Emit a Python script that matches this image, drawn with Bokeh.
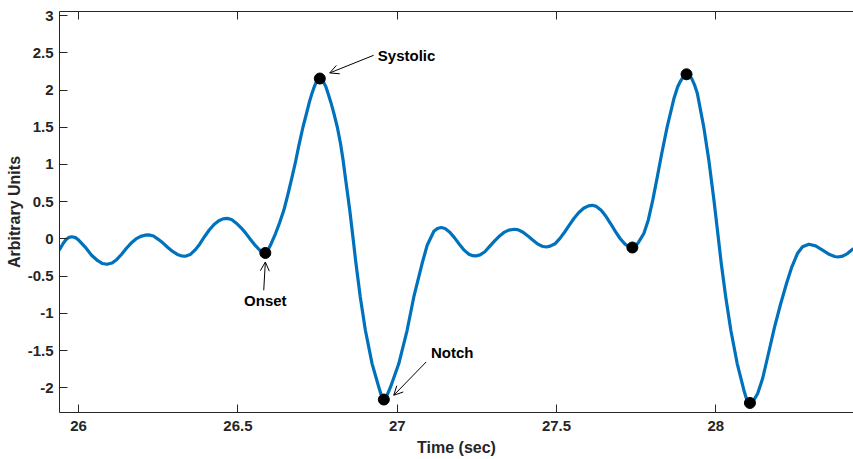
from bokeh.plotting import figure
from bokeh.models import Range1d, FixedTicker, LinearAxis, Arrow, OpenHead, Label, ColumnDataSource
from bokeh.embed import file_html
from bokeh.resources import INLINE

# ---- data ----
time_sec = [25.939, 25.950, 25.960, 25.970, 25.979, 25.990, 26.000, 26.020, 26.040, 26.060,
            26.075, 26.089, 26.105, 26.120, 26.135, 26.150, 26.165, 26.180, 26.195, 26.208,
            26.220, 26.235, 26.250, 26.265, 26.280, 26.295, 26.310, 26.322, 26.335, 26.350,
            26.365, 26.380, 26.395, 26.410, 26.425, 26.440, 26.453, 26.466, 26.480, 26.495,
            26.510, 26.525, 26.540, 26.555, 26.570, 26.586, 26.594, 26.602, 26.618, 26.631,
            26.644, 26.657, 26.670, 26.681, 26.691, 26.704, 26.717, 26.724, 26.731, 26.738,
            26.744, 26.750, 26.757, 26.763, 26.769, 26.776, 26.783, 26.792, 26.801, 26.812,
            26.822, 26.830, 26.837, 26.844, 26.851, 26.861, 26.870, 26.884, 26.900, 26.921,
            26.942, 26.949, 26.958, 26.968, 26.979, 27.005, 27.031, 27.052, 27.078, 27.094,
            27.115, 27.126, 27.138, 27.150, 27.165, 27.180, 27.195, 27.210, 27.225, 27.237,
            27.246, 27.260, 27.275, 27.290, 27.305, 27.320, 27.335, 27.350, 27.368, 27.380,
            27.395, 27.410, 27.425, 27.440, 27.455, 27.468, 27.480, 27.495, 27.510, 27.525,
            27.540, 27.555, 27.570, 27.585, 27.600, 27.612, 27.625, 27.640, 27.655, 27.670,
            27.685, 27.700, 27.715, 27.727, 27.738, 27.750, 27.758, 27.774, 27.788, 27.802,
            27.816, 27.830, 27.847, 27.868, 27.880, 27.889, 27.899, 27.908, 27.916, 27.924,
            27.933, 27.942, 27.962, 27.978, 27.994, 28.005, 28.017, 28.031, 28.047, 28.067,
            28.088, 28.096, 28.107, 28.118, 28.131, 28.147, 28.166, 28.184, 28.203, 28.222,
            28.238, 28.256, 28.272, 28.292, 28.313, 28.335, 28.357, 28.373, 28.383, 28.398,
            28.413, 28.432]
amplitude = [-0.152, -0.070, -0.010, 0.022, 0.030, 0.018, -0.015, -0.105, -0.215, -0.292,
             -0.330, -0.340, -0.322, -0.275, -0.205, -0.125, -0.055, 0.000, 0.035, 0.051,
             0.055, 0.040, -0.005, -0.055, -0.115, -0.168, -0.208, -0.227, -0.232, -0.210,
             -0.150, -0.070, 0.030, 0.120, 0.195, 0.245, 0.270, 0.276, 0.262, 0.212,
             0.150, 0.075, -0.010, -0.090, -0.155, -0.188, -0.150, -0.085, 0.073, 0.220,
             0.385, 0.600, 0.832, 1.040, 1.250, 1.500, 1.715, 1.835, 1.935, 2.025,
             2.090, 2.132, 2.154, 2.138, 2.105, 2.045, 1.952, 1.830, 1.690, 1.500,
             1.281, 1.060, 0.832, 0.610, 0.385, 0.023, -0.313, -0.779, -1.226, -1.673,
             -1.987, -2.085, -2.156, -2.100, -1.987, -1.673, -1.226, -0.779, -0.330, -0.085,
             0.103, 0.140, 0.153, 0.140, 0.090, 0.015, -0.070, -0.150, -0.205, -0.224,
             -0.228, -0.214, -0.172, -0.100, -0.030, 0.035, 0.088, 0.118, 0.130, 0.122,
             0.090, 0.041, -0.015, -0.065, -0.098, -0.108, -0.097, -0.065, 0.005, 0.090,
             0.185, 0.278, 0.355, 0.412, 0.444, 0.452, 0.437, 0.386, 0.304, 0.204,
             0.098, 0.003, -0.070, -0.104, -0.115, -0.085, -0.040, 0.073, 0.255, 0.521,
             0.829, 1.144, 1.501, 1.879, 2.040, 2.120, 2.185, 2.211, 2.195, 2.155,
             2.070, 1.952, 1.504, 1.057, 0.520, 0.117, -0.330, -0.779, -1.226, -1.673,
             -2.031, -2.145, -2.202, -2.170, -2.078, -1.870, -1.521, -1.186, -0.877, -0.595,
             -0.380, -0.196, -0.105, -0.071, -0.093, -0.149, -0.209, -0.236, -0.242, -0.230,
             -0.196, -0.129]

fiducial_time = [26.586, 26.757, 26.958, 27.738, 27.908, 28.107]
fiducial_amp = [-0.188, 2.154, -2.156, -0.115, 2.211, -2.202]

x_ticks = [26, 26.5, 27, 27.5, 28]
x_tick_labels = ["26", "26.5", "27", "27.5", "28"]
y_ticks = [-2, -1.5, -1, -0.5, 0, 0.5, 1, 1.5, 2, 2.5, 3]
y_tick_labels = ["-2", "-1.5", "-1", "-0.5", "0", "0.5", "1", "1.5", "2", "2.5", "3"]

annot_text = ["Systolic", "Onset", "Notch"]
annot_text_x = [26.939, 26.586, 27.106]
annot_text_y = [2.466, -0.823, -1.525]
annot_align = ["left", "center", "left"]
arrow_tail_x = [26.926, 26.581, 27.091]
arrow_tail_y = [2.466, -0.689, -1.651]
arrow_head_x = [26.788, 26.586, 26.989]
arrow_head_y = [2.229, -0.309, -2.099]

x_limits = (25.94, 28.432)
y_limits = (-2.33, 3.054)

FONT = "Liberation Sans"
AX = "#262626"

p = figure(width=853, height=459, output_backend="svg", toolbar_location=None,
           x_range=Range1d(*x_limits), y_range=Range1d(*y_limits),
           min_border_left=59, min_border_right=0, min_border_top=11, min_border_bottom=47)
p.xgrid.visible = False
p.ygrid.visible = False
p.background_fill_color = "white"
p.border_fill_color = "white"
p.outline_line_color = None


def style_axis(ax, ticks, labels):
    ax.ticker = FixedTicker(ticks=ticks)
    ax.major_label_overrides = {t: l for t, l in zip(ticks, labels)}
    ax.axis_line_color = AX
    ax.axis_line_width = 1
    ax.major_tick_line_color = AX
    ax.major_tick_in = 8
    ax.major_tick_out = 0
    ax.minor_tick_line_color = None
    ax.major_label_text_font = FONT
    ax.major_label_text_font_style = "bold"
    ax.major_label_text_font_size = "15px"
    ax.major_label_text_color = AX
    ax.axis_label_text_font = FONT
    ax.axis_label_text_font_style = "bold"
    ax.axis_label_text_font_size = "16px"
    ax.axis_label_text_color = AX


style_axis(p.xaxis[0], x_ticks, x_tick_labels)
style_axis(p.yaxis[0], y_ticks, y_tick_labels)
p.xaxis.axis_label = "Time (sec)"
p.yaxis.axis_label = "Arbitrary Units"
p.xaxis.major_label_standoff = 8
p.xaxis.axis_label_standoff = 5
p.yaxis.major_label_standoff = 6
p.yaxis.axis_label_standoff = 2

top = LinearAxis(ticker=FixedTicker(ticks=x_ticks), major_tick_in=8, major_tick_out=0,
                 minor_tick_line_color=None, major_label_text_font_size="0px",
                 major_label_standoff=0, axis_line_color=AX, axis_line_width=1,
                 major_tick_line_color=AX)
top.major_label_overrides = {t: "" for t in x_ticks}
p.add_layout(top, "above")

src = ColumnDataSource(dict(t=time_sec, a=amplitude))
p.line("t", "a", source=src, line_color="#0072BD", line_width=3.2, line_join="round")
p.scatter(fiducial_time, fiducial_amp, size=11, color="black")

for txt, tx, ty, al, x0, y0, x1, y1 in zip(annot_text, annot_text_x, annot_text_y, annot_align,
                                           arrow_tail_x, arrow_tail_y, arrow_head_x, arrow_head_y):
    p.add_layout(Arrow(end=OpenHead(size=9, line_width=1, line_color="black"),
                       x_start=x0, y_start=y0, x_end=x1, y_end=y1,
                       line_color="black", line_width=1))
    p.add_layout(Label(x=tx, y=ty, text=txt, text_align=al, text_baseline="middle",
                       text_font=FONT, text_font_style="bold", text_font_size="15px",
                       text_color="black"))

open("out.html", "w").write(file_html(p, INLINE))
